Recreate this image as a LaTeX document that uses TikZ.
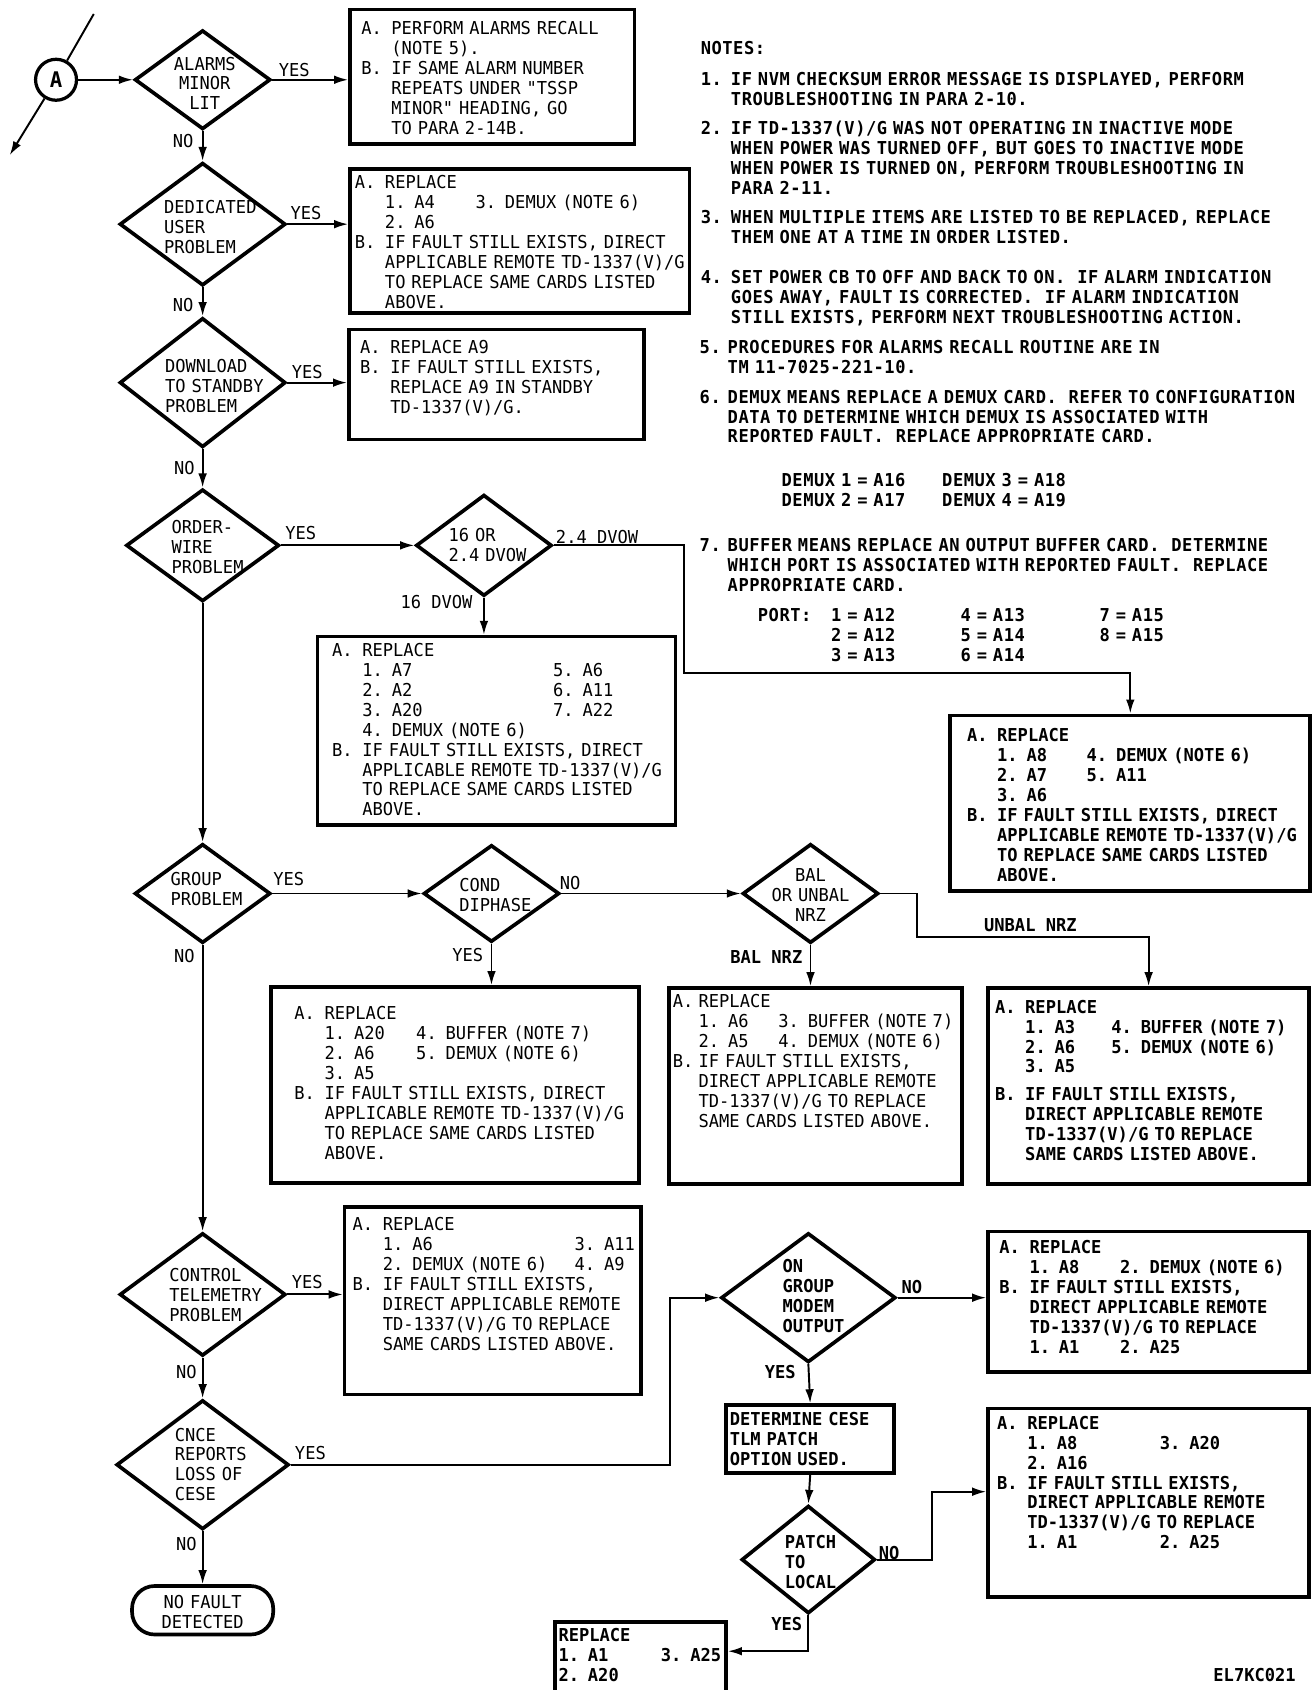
\documentclass[tikz,border=0pt]{standalone}
\usepackage{fontspec}
\newfontfamily\flowfont{DejaVu Sans Mono}[FakeStretch=0.96]
\usetikzlibrary{arrows.meta,shapes.geometric}
\setlength{\parindent}{0pt}

\newcommand{\itemlab}[2][28pt]{\makebox[#1][l]{#2}}
\newcommand{\hind}[1][28pt]{\hspace*{#1}}
\newcommand{\colbox}[2]{\makebox[#1][l]{#2}}

\begin{document}
\begin{tikzpicture}[x=1pt,y=-1pt,>={Latex[length=13pt,width=8pt]},
    font=\flowfont\fontsize{16.5}{18.5}\selectfont]
    \tikzset{
        decision/.style={draw,diamond,line width=3.4pt,inner sep=0pt},
        actbox/.style={draw,rectangle,line width=3.4pt,anchor=north west,inner sep=0pt},
        boxtext/.style={anchor=base west,align=left,inner sep=0pt,text width=380pt},
        ctrtext/.style={anchor=base,align=center,inner sep=0pt,text width=140pt},
        notetext/.style={boxtext,text width=580pt,
            font=\flowfont\fontsize{16.5}{18.5}\selectfont\bfseries\addfontfeature{LetterSpace=3}},
        flow/.style={->,line width=1.8pt},
        answer/.style={inner sep=0pt},
        heavy/.style={font=\flowfont\fontsize{16.5}{18.5}\selectfont\bfseries}
    }

    \fill[white] (0,0) rectangle (1218,1568);
    \useasboundingbox (0,0) rectangle (1218,1568);

    % off-page connector
    \node[circle,draw,line width=3pt,minimum size=38,inner sep=0pt,
        font=\flowfont\fontsize{20}{20}\selectfont\bfseries] (conA) at (52,74) {A};
    \coordinate (offin) at (87,13);
    \coordinate (offout) at (9,144);

    % decisions
    \node[decision,minimum width=126,minimum height=92] (alarms) at (188,74) {};
    \node[decision,minimum width=154,minimum height=114] (dedicated) at (188,208) {};
    \node[decision,minimum width=154,minimum height=120] (download) at (188,355) {};
    \node[decision,minimum width=142,minimum height=104] (orderwire) at (188,506) {};
    \node[decision,minimum width=126,minimum height=94] (dvow) at (449,506) {};
    \node[decision,minimum width=126,minimum height=92] (group) at (188,829) {};
    \node[decision,minimum width=126,minimum height=90] (diphase) at (456,829) {};
    \node[decision,minimum width=126,minimum height=92] (balnrz) at (752,829) {};
    \node[decision,minimum width=154,minimum height=114] (telemetry) at (188,1201) {};
    \node[decision,minimum width=160,minimum height=120] (cnce) at (188,1359) {};
    \node[decision,minimum width=162,minimum height=120] (ongroup) at (750,1204) {};
    \node[decision,minimum width=124,minimum height=100] (patch) at (750,1447) {};
    \node[draw,rounded corners=21pt,line width=3.4pt,minimum width=131,minimum height=45,
        inner sep=0pt] (nofault) at (188,1494) {};

    \node[ctrtext] (alarms-t) at (190,65) {ALARMS\\MINOR\\LIT};
    \node[boxtext] (dedicated-t) at (152,198) {DEDICATED\\USER\\PROBLEM};
    \node[boxtext] (download-t) at (153,346) {DOWNLOAD\\TO STANDBY\\PROBLEM};
    \node[boxtext] (orderwire-t) at (159,495) {ORDER-\\WIRE\\PROBLEM};
    \node[boxtext] (dvow-t) at (416,502) {16 OR\\2.4 DVOW};
    \node[boxtext] (group-t) at (158,822) {GROUP\\PROBLEM};
    \node[boxtext] (diphase-t) at (426,827) {COND\\DIPHASE};
    \node[ctrtext] (balnrz-t) at (752,818) {BAL\\OR UNBAL\\NRZ};
    \node[boxtext] (telemetry-t) at (157,1189) {CONTROL\\TELEMETRY\\PROBLEM};
    \node[boxtext] (cnce-t) at (162,1337) {CNCE\\REPORTS\\LOSS OF\\CESE};
    \node[boxtext,heavy] (ongroup-t) at (726,1181) {ON\\GROUP\\MODEM\\OUTPUT};
    \node[boxtext,heavy] (patch-t) at (728,1437) {PATCH\\TO\\LOCAL};
    \node[ctrtext] (nofault-t) at (188,1492) {NO FAULT\\DETECTED};

    % action boxes
    \node[actbox,minimum width=264,minimum height=125] (alarmbox) at (323,7) {};
    \node[actbox,minimum width=315,minimum height=134] (dedbox) at (323,155) {};
    \node[actbox,minimum width=274,minimum height=102] (dlbox) at (322,304) {};
    \node[actbox,minimum width=332,minimum height=175] (dvow16box) at (293,589) {};
    \node[actbox,minimum width=334,minimum height=163] (dvow24box) at (880,662) {};
    \node[actbox,minimum width=341,minimum height=182] (diphbox) at (250,914) {};
    \node[actbox,minimum width=272,minimum height=182] (balbox) at (619,915) {};
    \node[actbox,minimum width=298,minimum height=182] (unbalbox) at (915,915) {};
    \node[actbox,minimum width=275,minimum height=174] (telebox) at (318,1118) {};
    \node[actbox,minimum width=298,minimum height=130] (ogbox) at (915,1141) {};
    \node[actbox,minimum width=298,minimum height=175] (patchbox) at (915,1305) {};
    \node[actbox,minimum width=159,minimum height=66] (localbox) at (513,1503) {};
    \node[actbox,minimum width=156,minimum height=63] (determine) at (672,1302) {};

    \node[boxtext] (alarmbox-t) at (335,32) {\itemlab{A.}PERFORM ALARMS RECALL\\
        \hind(NOTE 5).\\
        \itemlab{B.}IF SAME ALARM NUMBER\\
        \hind REPEATS UNDER "TSSP\\
        \hind MINOR" HEADING, GO\\
        \hind TO PARA 2-14B.};
    \node[boxtext] (dedbox-t) at (329,175) {\itemlab{A.}REPLACE\\
        \hind\colbox{84pt}{1. A4}3. DEMUX (NOTE 6)\\
        \hind 2. A6\\
        \itemlab{B.}IF FAULT STILL EXISTS, DIRECT\\
        \hind APPLICABLE REMOTE TD-1337(V)/G\\
        \hind TO REPLACE SAME CARDS LISTED\\
        \hind ABOVE.};
    \node[boxtext] (dlbox-t) at (334,328) {\itemlab{A.}REPLACE A9\\
        \itemlab{B.}IF FAULT STILL EXISTS,\\
        \hind REPLACE A9 IN STANDBY\\
        \hind TD-1337(V)/G.};
    \node[boxtext] (dvow16box-t) at (308,609) {\itemlab{A.}REPLACE\\
        \hind\colbox{177pt}{1. A7}5. A6\\
        \hind\colbox{177pt}{2. A2}6. A11\\
        \hind\colbox{177pt}{3. A20}7. A22\\
        \hind 4. DEMUX (NOTE 6)\\
        \itemlab{B.}IF FAULT STILL EXISTS, DIRECT\\
        \hind APPLICABLE REMOTE TD-1337(V)/G\\
        \hind TO REPLACE SAME CARDS LISTED\\
        \hind ABOVE.};
    \node[boxtext,heavy] (dvow24box-t) at (897,688) {\itemlab{A.}REPLACE\\
        \hind\colbox{83pt}{1. A8}4. DEMUX (NOTE 6)\\
        \hind\colbox{83pt}{2. A7}5. A11\\
        \hind 3. A6\\
        \itemlab{B.}IF FAULT STILL EXISTS, DIRECT\\
        \hind APPLICABLE REMOTE TD-1337(V)/G\\
        \hind TO REPLACE SAME CARDS LISTED\\
        \hind ABOVE.};
    \node[boxtext] (diphbox-t) at (273,946) {\itemlab{A.}REPLACE\\
        \hind\colbox{85pt}{1. A20}4. BUFFER (NOTE 7)\\
        \hind\colbox{85pt}{2. A6}5. DEMUX (NOTE 6)\\
        \hind 3. A5\\
        \itemlab{B.}IF FAULT STILL EXISTS, DIRECT\\
        \hind APPLICABLE REMOTE TD-1337(V)/G\\
        \hind TO REPLACE SAME CARDS LISTED\\
        \hind ABOVE.};
    \node[boxtext] (balbox-t) at (624,935) {\itemlab[24pt]{A.}REPLACE\\
        \hind[24pt]\colbox{74pt}{1. A6}3. BUFFER (NOTE 7)\\
        \hind[24pt]\colbox{74pt}{2. A5}4. DEMUX (NOTE 6)\\
        \itemlab[24pt]{B.}IF FAULT STILL EXISTS,\\
        \hind[24pt]DIRECT APPLICABLE REMOTE\\
        \hind[24pt]TD-1337(V)/G TO REPLACE\\
        \hind[24pt]SAME CARDS LISTED ABOVE.};
    \node[boxtext,heavy] (unbalbox-t) at (923,940) {\itemlab{A.}REPLACE\\
        \hind\colbox{80pt}{1. A3}4. BUFFER (NOTE 7)\\
        \hind\colbox{80pt}{2. A6}5. DEMUX (NOTE 6)\\
        \hind 3. A5\\[7pt]
        \itemlab{B.}IF FAULT STILL EXISTS,\\
        \hind DIRECT APPLICABLE REMOTE\\
        \hind TD-1337(V)/G TO REPLACE\\
        \hind SAME CARDS LISTED ABOVE.};
    \node[boxtext] (telebox-t) at (327,1142) {\itemlab{A.}REPLACE\\
        \hind\colbox{178pt}{1. A6}3. A11\\
        \hind\colbox{178pt}{2. DEMUX (NOTE 6)}4. A9\\
        \itemlab{B.}IF FAULT STILL EXISTS,\\
        \hind DIRECT APPLICABLE REMOTE\\
        \hind TD-1337(V)/G TO REPLACE\\
        \hind SAME CARDS LISTED ABOVE.};
    \node[boxtext,heavy] (ogbox-t) at (927,1163) {\itemlab{A.}REPLACE\\
        \hind\colbox{84pt}{1. A8}2. DEMUX (NOTE 6)\\
        \itemlab{B.}IF FAULT STILL EXISTS,\\
        \hind DIRECT APPLICABLE REMOTE\\
        \hind TD-1337(V)/G TO REPLACE\\
        \hind\colbox{84pt}{1. A1}2. A25};
    \node[boxtext,heavy] (patchbox-t) at (925,1326) {\itemlab{A.}REPLACE\\
        \hind\colbox{123pt}{1. A8}3. A20\\
        \hind 2. A16\\
        \itemlab{B.}IF FAULT STILL EXISTS,\\
        \hind DIRECT APPLICABLE REMOTE\\
        \hind TD-1337(V)/G TO REPLACE\\
        \hind\colbox{123pt}{1. A1}2. A25};
    \node[boxtext,heavy] (localbox-t) at (518,1523) {REPLACE\\
        \colbox{95pt}{1. A1}3. A25\\
        2. A20};
    \node[boxtext,heavy] (determine-t) at (677,1323) {DETERMINE CESE\\TLM PATCH\\OPTION USED.};

    % notes
    \node[notetext] (notes) at (650,51) {NOTES:};
    \node[notetext] (note1) at (650,79) {\itemlab{1.}IF NVM CHECKSUM ERROR MESSAGE IS DISPLAYED, PERFORM\\
        \hind TROUBLESHOOTING IN PARA 2-10.};
    \node[notetext] (note2) at (650,125) {\itemlab{2.}IF TD-1337(V)/G WAS NOT OPERATING IN INACTIVE MODE\\
        \hind WHEN POWER WAS TURNED OFF, BUT GOES TO INACTIVE MODE\\
        \hind WHEN POWER IS TURNED ON, PERFORM TROUBLESHOOTING IN\\
        \hind PARA 2-11.};
    \node[notetext] (note3) at (650,207) {\itemlab{3.}WHEN MULTIPLE ITEMS ARE LISTED TO BE REPLACED, REPLACE\\
        \hind THEM ONE AT A TIME IN ORDER LISTED.};
    \node[notetext] (note4) at (650,263) {\itemlab{4.}SET POWER CB TO OFF AND BACK TO ON.~ IF ALARM INDICATION\\
        \hind GOES AWAY, FAULT IS CORRECTED.~ IF ALARM INDICATION\\
        \hind STILL EXISTS, PERFORM NEXT TROUBLESHOOTING ACTION.};
    \node[notetext] (note5) at (649,328) {\itemlab[26pt]{5.}PROCEDURES FOR ALARMS RECALL ROUTINE ARE IN\\
        \hind[26pt]TM 11-7025-221-10.};
    \node[notetext] (note6) at (649,374) {\itemlab[26pt]{6.}DEMUX MEANS REPLACE A DEMUX CARD.~ REFER TO CONFIGURATION\\
        \hind[26pt]DATA TO DETERMINE WHICH DEMUX IS ASSOCIATED WITH\\
        \hind[26pt]REPORTED FAULT.~ REPLACE APPROPRIATE CARD.};
    \node[notetext] (demuxtab) at (725,451) {\colbox{149pt}{DEMUX 1 = A16}DEMUX 3 = A18\\
        \colbox{149pt}{DEMUX 2 = A17}DEMUX 4 = A19};
    \node[notetext] (note7) at (649,512) {\itemlab[26pt]{7.}BUFFER MEANS REPLACE AN OUTPUT BUFFER CARD.~ DETERMINE\\
        \hind[26pt]WHICH PORT IS ASSOCIATED WITH REPORTED FAULT.~ REPLACE\\
        \hind[26pt]APPROPRIATE CARD.};
    \node[notetext] (porttab) at (703,577) {\colbox{68pt}{PORT:}\colbox{120pt}{1 = A12}\colbox{129pt}{4 = A13}7 = A15\\
        \hind[68pt]\colbox{120pt}{2 = A12}\colbox{129pt}{5 = A14}8 = A15\\
        \hind[68pt]\colbox{120pt}{3 = A13}6 = A14};

    % answers
    \node[answer] (alarms-yes) at (273,65) {YES};
    \node[answer] (alarms-no) at (170,131) {NO};
    \node[answer] (dedicated-yes) at (284,198) {YES};
    \node[answer] (dedicated-no) at (170,283) {NO};
    \node[answer] (download-yes) at (285,345) {YES};
    \node[answer] (download-no) at (171,434) {NO};
    \node[answer] (orderwire-yes) at (279,495) {YES};
    \node[answer] (dvow-24) at (554,498) {2.4 DVOW};
    \node[answer] (dvow-16) at (405,559) {16 DVOW};
    \node[answer] (group-yes) at (268,816) {YES};
    \node[answer] (group-no) at (171,887) {NO};
    \node[answer] (diphase-no) at (529,819) {NO};
    \node[answer] (diphase-yes) at (434,886) {YES};
    \node[answer,heavy] (balnrz-bal) at (711,888) {BAL NRZ};
    \node[answer,heavy] (balnrz-unbal) at (956,858) {UNBAL NRZ};
    \node[answer] (telemetry-yes) at (285,1189) {YES};
    \node[answer] (telemetry-no) at (173,1273) {NO};
    \node[answer] (cnce-yes) at (288,1348) {YES};
    \node[answer] (cnce-no) at (173,1433) {NO};
    \node[answer,heavy] (ongroup-no) at (846,1194) {NO};
    \node[answer,heavy] (ongroup-yes) at (724,1273) {YES};
    \node[answer,heavy] (patch-no) at (825,1441) {NO};
    \node[answer,heavy] (patch-yes) at (730,1507) {YES};
    \node[answer,heavy] (figid) at (1164,1554) {EL7KC021};

    % connectors
    \coordinate (j24) at (635,624);
    \coordinate (junbal) at (851,869);
    \coordinate (jcese) at (622,1204);
    \coordinate (jpatch) at (865,1384);
    \coordinate (jlocal) at (750,1532);

    \draw[line width=1.8pt] (offin) -- (conA);
    \draw[flow] (conA) -- (offout);
    \draw[flow] (conA) -- (alarms);
    \draw[flow] (alarms.east) -- (alarms.east -| alarmbox.west);
    \draw[flow] (alarms.south) -- (dedicated.north);
    \draw[flow] (dedicated.east) -- (dedicated.east -| dedbox.west);
    \draw[flow] (dedicated.south) -- (download.north);
    \draw[flow] (download.east) -- (download.east -| dlbox.west);
    \draw[flow] (download.south) -- (orderwire.north);
    \draw[flow] (orderwire.east) -- (dvow.west);
    \draw[flow] (dvow.south) -- (dvow.south |- dvow16box.north);
    \draw[flow] (dvow.east) -| (j24) -| (dvow24box.north);
    \draw[flow] (orderwire.south) -- (group.north);
    \draw[flow] (group.east) -- (diphase.west);
    \draw[flow] (diphase.east) -- (balnrz.west);
    \draw[flow] (diphase.south) -- (diphase.south |- diphbox.north);
    \draw[flow] (balnrz.south) -- (balnrz.south |- balbox.north);
    \draw[flow] (balnrz.east) -| (junbal) -| (unbalbox.north);
    \draw[flow] (group.south) -- (telemetry.north);
    \draw[flow] (telemetry.east) -- (telemetry.east -| telebox.west);
    \draw[flow] (telemetry.south) -- (cnce.north);
    \draw[flow] (cnce.south) -- (nofault.north);
    \draw[flow] (cnce.east) -| (jcese) -- (ongroup.west);
    \draw[flow] (ongroup.east) -- (ongroup.east -| ogbox.west);
    \draw[flow] (ongroup.south) -- (determine.north);
    \draw[flow] (determine.south) -- (patch.north);
    \draw[flow] (patch.east) -| (jpatch) -- (jpatch -| patchbox.west);
    \draw[flow] (patch.south) -- (jlocal) -- (jlocal -| localbox.east);
\end{tikzpicture}
\end{document}
